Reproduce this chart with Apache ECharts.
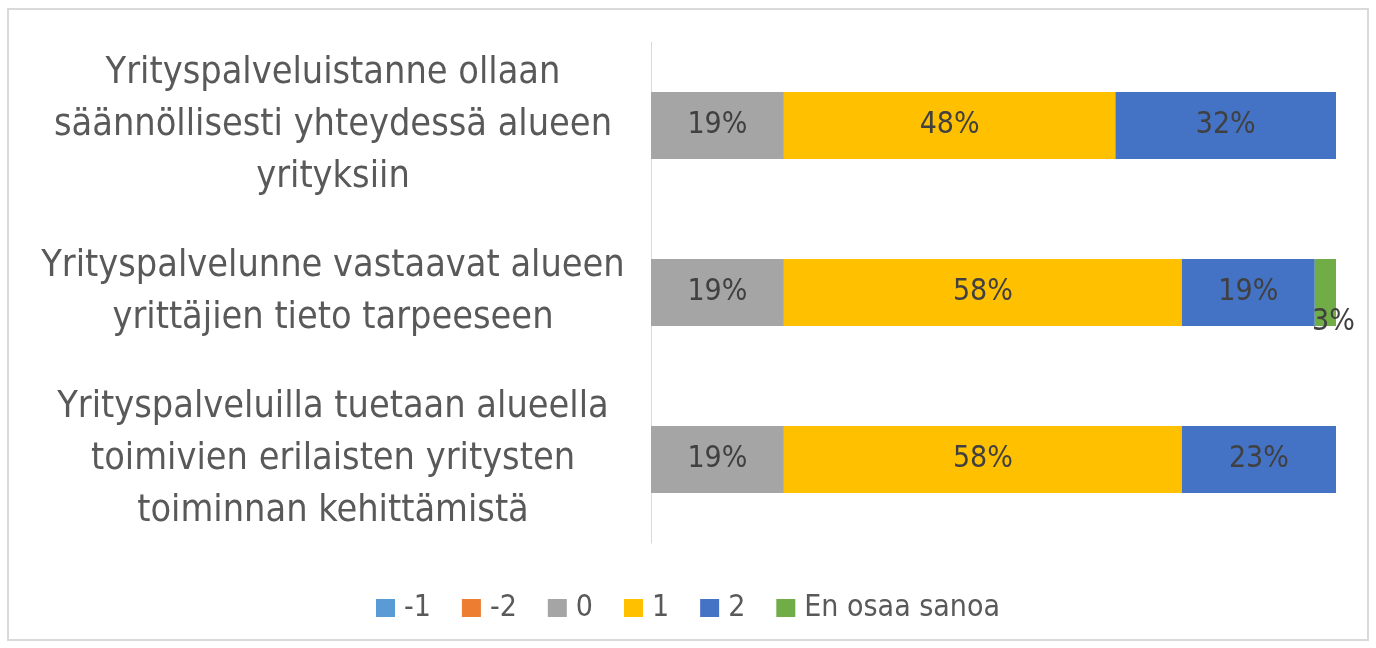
<!DOCTYPE html>
<html>
<head>
<meta charset="utf-8">
<script src="https://cdn.jsdelivr.net/npm/echarts@6/dist/echarts.min.js"></script>
<style>
  html, body { margin: 0; padding: 0; background: #fff; }
  #chart { width: 1376px; height: 648px; }
</style>
</head>
<body>
<div id="chart"></div>
<script>
// kysymykset (ylhäältä alas)
var categories = [
    'Yrityspalveluistanne ollaan\nsäännöllisesti yhteydessä alueen\nyrityksiin',
    'Yrityspalvelunne vastaavat alueen\nyrittäjien tieto tarpeeseen',
    'Yrityspalveluilla tuetaan alueella\ntoimivien erilaisten yritysten\ntoiminnan kehittämistä'
];
var seriesNames = ['-1', '-2', '0', '1', '2', 'En osaa sanoa'];
// osuudet prosentteina, arvioitu kuvasta
var valMinus1 = [0, 0, 0];
var valMinus2 = [0, 0, 0];
var val0 = [19.4, 19.4, 19.4];
var val1 = [48.4, 58.1, 58.1];
var val2 = [32.2, 19.4, 22.5];
var valEos = [0, 3.2, 0];
var colors = ['#5B9BD5', '#ED7D31', '#A5A5A5', '#FFC000', '#4472C4', '#70AD47'];

var font = "'Liberation Sans Narrow', 'DejaVu Sans Condensed', sans-serif";
var allValues = [valMinus1, valMinus2, val0, val1, val2, valEos];

var myChart = echarts.init(document.getElementById('chart'));

var series = [];
for (var i = 0; i < seriesNames.length; i++) {
    var data = [];
    for (var j = 0; j < allValues[i].length; j++) {
        var item = { value: allValues[i][j] };
        // pieni vihreä pala: otsikko valuu palkin alle
        if (i === 5 && allValues[i][j] > 0) {
            item.label = { offset: [8, 30] };
        }
        data.push(item);
    }
    series.push({
        name: seriesNames[i],
        type: 'bar',
        stack: 'total',
        barWidth: '40%',
        itemStyle: { color: colors[i] },
        label: {
            show: true,
            position: 'inside',
            color: '#404040',
            fontFamily: font,
            fontSize: 30,
            formatter: function (p) {
                return p.value > 0 ? Math.round(p.value) + '%' : '';
            }
        },
        emphasis: { disabled: true },
        data: data
    });
}

var option = {
    animation: false,
    graphic: [{
        type: 'rect',
        shape: { x: 8, y: 9, width: 1360, height: 631 },
        style: { fill: 'none', stroke: '#d9d9d9', lineWidth: 2 },
        silent: true
    }],
    legend: {
        top: 588,
        left: 'center',
        itemWidth: 19,
        itemHeight: 18,
        itemGap: 31,
        icon: 'rect',
        textStyle: { color: '#595959', fontFamily: font, fontSize: 30, padding: [0, 0, 0, 4] },
        data: seriesNames
    },
    grid: { left: 651, right: 40, top: 42, bottom: 105 },
    xAxis: {
        type: 'value',
        min: 0,
        max: 100,
        show: false
    },
    yAxis: {
        type: 'category',
        inverse: true,
        data: categories,
        axisLine: { show: true, lineStyle: { color: '#d9d9d9', width: 1 } },
        axisTick: { show: false },
        axisLabel: {
            margin: 318,
            align: 'center',
            color: '#595959',
            fontFamily: font,
            fontSize: 37.5,
            lineHeight: 52,
            padding: [14, 0, 0, 0]
        }
    },
    series: series
};
myChart.setOption(option);
</script>
</body>
</html>
